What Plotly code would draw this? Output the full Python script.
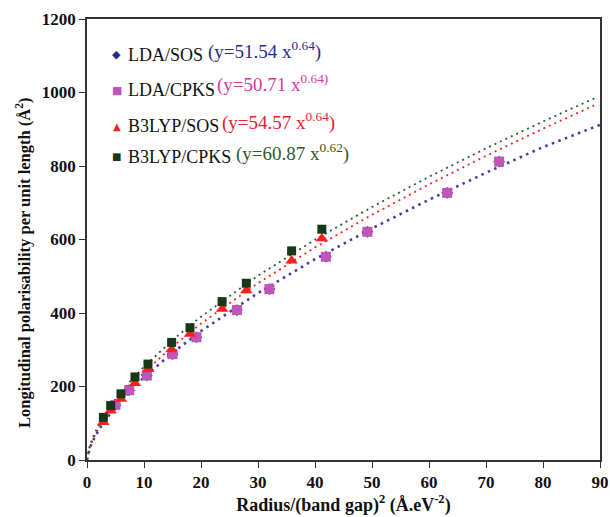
import plotly.graph_objects as go

# ---------------- data ----------------
# LDA points (x = Radius/(band gap)^2)
lda_x = [5.0, 7.4, 10.5, 15.0, 19.2, 26.3, 32.0, 41.9, 49.2, 63.2, 72.3]
lda_sos_y = [150, 190, 230, 288, 334, 408, 465, 553, 621, 727, 812]
lda_cpks_y = [150, 190, 230, 288, 334, 408, 465, 553, 621, 727, 812]

# B3LYP points
b3_x = [2.87, 4.15, 5.96, 8.42, 10.7, 14.85, 18.07, 23.7, 27.95, 35.9, 41.2]
b3_sos_y = [103, 134, 166, 209, 247, 301, 343, 411, 461, 542, 603]
b3_cpks_y = [116, 148, 180, 226, 261, 320, 360, 431, 481, 569, 628]

# Fitted power-law trend lines
fit_x = [0, 0.5, 1, 2, 3, 5, 7.5, 10, 15, 20, 30, 40, 50, 60, 70, 80, 90]
fit_lda_y = [0, 33.1, 51.5, 80.3, 104.1, 144.4, 187.2, 225.0, 291.7, 350.6,
             454.5, 546.4, 630.2, 708.3, 781.6, 851.5, 912.0]
fit_x2 = [0, 0.5, 1, 2, 3, 5, 7.5, 10, 15, 20, 30, 40, 50, 60, 70, 80, 89]
fit_b3sos_y = [0, 35.0, 54.6, 85.0, 110.2, 152.9, 198.1, 238.2, 308.8, 371.2,
               481.2, 578.4, 667.2, 749.8, 827.5, 901.5, 965.1]
fit_b3cpks_y = [0, 39.6, 60.9, 93.6, 120.3, 165.1, 212.3, 253.7, 326.3, 390.0,
                501.5, 599.4, 688.5, 770.7, 847.9, 921.2, 984.0]

series_names = ["LDA/SOS", "LDA/CPKS", "B3LYP/SOS", "B3LYP/CPKS"]
fit_labels = ["(y=51.54 x<sup>0.64</sup>)", "(y=50.71 x<sup>0.64)</sup>",
              "(y=54.57 x<sup>0.64</sup>)", "(y=60.87 x<sup>0.62</sup>)"]

x_ticks = [0, 10, 20, 30, 40, 50, 60, 70, 80, 90]
y_ticks = [0, 200, 400, 600, 800, 1000, 1200]

x_title = "<b>Radius/(band gap)<sup>2</sup> (Å.eV<sup>-2</sup>)</b>"
y_title = "<b>Longitudinal polarisability per unit length (Å<sup>2</sup>)</b>"

# ---------------- styling ----------------
FONT = "Liberation Serif"
C_BLUE = "#1f2d8a"
C_BLUE_LINE = "#4a3aa0"
C_MAG = "#c054b8"
C_RED = "#ff1e1e"
C_GREEN = "#173817"
C_GREEN_LINE = "#2f5a35"
EQ_COLORS = ["#2b2b8f", "#e0369e", "#e8202a", "#2e5a2e"]

fig = go.Figure()

# trend lines
fig.add_trace(go.Scatter(x=fit_x, y=fit_lda_y, mode="lines",
                         line=dict(color=C_BLUE_LINE, width=2.6, dash="2.5px,4.5px"),
                         hoverinfo="skip", showlegend=False))
fig.add_trace(go.Scatter(x=fit_x2, y=fit_b3sos_y, mode="lines",
                         line=dict(color=C_RED, width=1.8, dash="2px,4px"),
                         hoverinfo="skip", showlegend=False))
fig.add_trace(go.Scatter(x=fit_x2, y=fit_b3cpks_y, mode="lines",
                         line=dict(color=C_GREEN_LINE, width=1.8, dash="2px,4px"),
                         hoverinfo="skip", showlegend=False))

# data markers
fig.add_trace(go.Scatter(x=lda_x, y=lda_sos_y, mode="markers", name=series_names[0],
                         marker=dict(symbol="diamond", size=9, color=C_BLUE),
                         showlegend=False))
fig.add_trace(go.Scatter(x=lda_x, y=lda_cpks_y, mode="markers", name=series_names[1],
                         marker=dict(symbol="square", size=10, color=C_MAG),
                         showlegend=False))
fig.add_trace(go.Scatter(x=b3_x, y=b3_sos_y, mode="markers", name=series_names[2],
                         marker=dict(symbol="triangle-up", size=11, color=C_RED),
                         showlegend=False))
fig.add_trace(go.Scatter(x=b3_x, y=b3_cpks_y, mode="markers", name=series_names[3],
                         marker=dict(symbol="square", size=9, color=C_GREEN),
                         showlegend=False))

# ---------------- custom legend (text annotations) ----------------
L, R, T, B = 87, 600, 19, 460
W, H = 610, 517
PW, PH = R - L, B - T


def px(xp):
    return (xp - L) / PW


def py(yp):
    return (B - yp) / PH


glyphs = [("◆", C_BLUE, 11), ("■", C_MAG, 11), ("▲", C_RED, 10), ("■", C_GREEN, 10)]
name_y = [55, 90, 126, 156.5]
eq_x = [206, 215, 220, 234]
eq_y = [50, 83, 121, 152]
annotations = []
for i in range(4):
    g, c, s = glyphs[i]
    annotations.append(dict(x=px(116.5), y=py(name_y[i]), xref="paper", yref="paper",
                            text=g, showarrow=False, xanchor="center", yanchor="middle",
                            font=dict(family="DejaVu Sans", size=s, color=c)))
    annotations.append(dict(x=px(126), y=py(name_y[i]), xref="paper", yref="paper",
                            text=series_names[i], showarrow=False, xanchor="left",
                            yanchor="middle", font=dict(family=FONT, size=18, color="#111111")))
    annotations.append(dict(x=px(eq_x[i]), y=py(eq_y[i]), xref="paper", yref="paper",
                            text=fit_labels[i], showarrow=False, xanchor="left",
                            yanchor="middle", font=dict(family=FONT, size=19, color=EQ_COLORS[i])))

# y-axis title (placed as rotated text to match the reference's offset)
annotations.append(dict(x=px(23), y=py(263), xref="paper", yref="paper",
                        text=y_title, showarrow=False, textangle=-90,
                        xanchor="center", yanchor="middle",
                        font=dict(family=FONT, size=16.5, color="#111111")))

axis_common = dict(showline=True, linecolor="#333333", linewidth=1.5, mirror=True,
                   ticks="outside", ticklen=6, tickwidth=1.2, tickcolor="#333333",
                   showgrid=False, zeroline=False, automargin=False,
                   tickfont=dict(family=FONT, size=17, color="#111111"))

fig.update_layout(
    width=W, height=H,
    margin=dict(l=L, r=W - R, t=T, b=H - B, autoexpand=False),
    paper_bgcolor="white", plot_bgcolor="white",
    font=dict(family=FONT, color="#111111"),
    xaxis=dict(range=[0, 90], tickvals=x_ticks, ticktext=[f"<b>{v}</b>" for v in x_ticks],
               title=dict(text=x_title,
                          font=dict(family=FONT, size=18, color="#111111"), standoff=2),
               **axis_common),
    yaxis=dict(range=[0, 1200], tickvals=y_ticks, ticktext=[f"<b>{v}</b>" for v in y_ticks],
               **axis_common),
    annotations=annotations,
)

fig.write_html("out.html", config={"displayModeBar": False},
               post_script="document.body.style.margin='0';document.body.style.overflow='hidden';")
